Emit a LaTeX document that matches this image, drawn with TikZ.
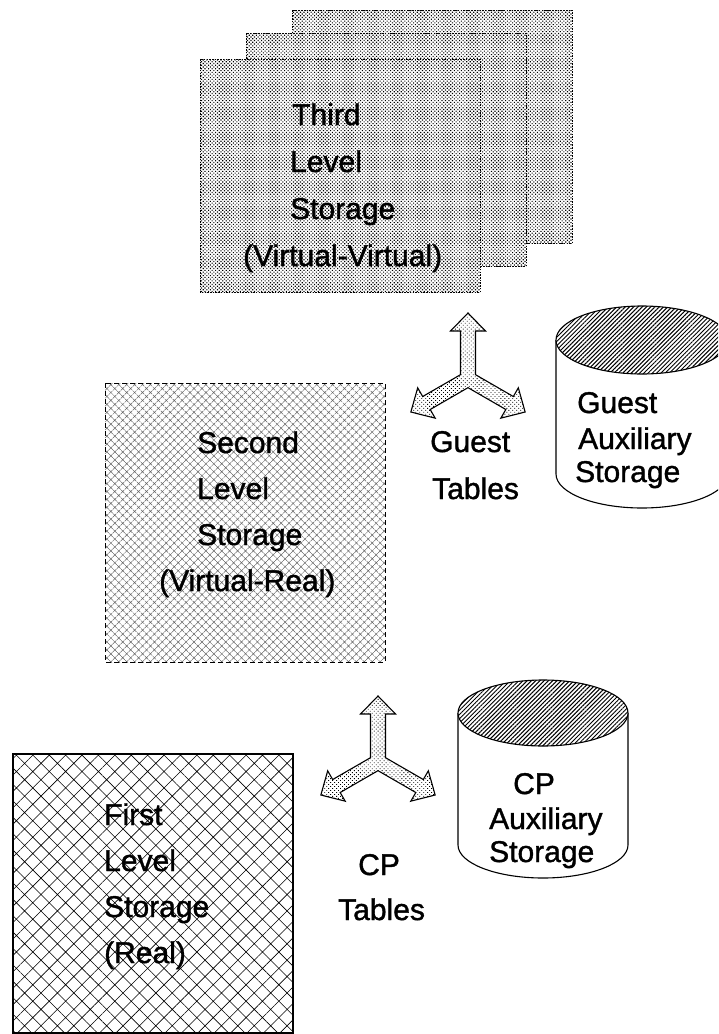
\documentclass[tikz,border=0pt]{standalone}
\usepackage{fontspec}
\setmainfont{Liberation Sans}
\newfontfamily\lblfont{Liberation Sans}[BoldFont={Liberation Sans}, BoldFeatures={FakeBold=1.2}]
\usetikzlibrary{patterns.meta}

\begin{document}
\begin{tikzpicture}[x=1pt,y=-1pt,
  lbl/.style={anchor=base west, inner sep=0pt, font=\lblfont\bfseries\fontsize{30}{36}\selectfont},
  vvbox/.style={preaction={fill=white},
    pattern={Dots[distance=2.5pt,radius=0.8pt,angle=45]}, pattern color=black,
    draw, line width=0.7pt, dash pattern=on 1.5pt off 1.2pt},
  vrbox/.style={preaction={fill=white},
    pattern={Hatch[angle=45,distance=5.6pt,line width=0.5pt]}, pattern color=black!60,
    draw, line width=1pt, dash pattern=on 5pt off 3pt},
  realbox/.style={preaction={fill=white},
    pattern={Hatch[angle=45,distance=11.6pt,line width=0.6pt]}, pattern color=black,
    draw, line width=1.1pt},
  yarrow/.style={preaction={fill=white},
    pattern={Dots[distance=2.8pt,radius=0.6pt,angle=45]}, pattern color=black,
    draw, line width=1.1pt, line join=miter},
  disk/.style={draw, line width=1.1pt, fill=white},
  disktop/.style={preaction={fill=white},
    pattern={Lines[angle=45,distance=3pt,line width=1pt]}, pattern color=black,
    draw, line width=1.1pt}
]
\useasboundingbox (0,0) rectangle (718,1034);
\clip (0,0) rectangle (718,1034);

% three-armed table arrow, centred at the current origin
\newcommand\tablearrow{%
  \draw[yarrow] (-7.5,-48) -- (-17.5,-48) -- (0,-66) -- (17.5,-48) -- (7.5,-48)
    -- (7.5,-4.33)
    -- (45.32,17.505) -- (50.32,8.845) -- (57.16,33) -- (32.82,39.155) -- (37.82,30.495)
    -- (0,8.66)
    -- (-37.82,30.495) -- (-32.82,39.155) -- (-57.16,33) -- (-50.32,8.845) -- (-45.32,17.505)
    -- (-7.5,-4.33) -- cycle;}

% ---- third level storage: a stack of pages
\path[vvbox] (292,10) rectangle (572,243);
\path[vvbox] (246,33) rectangle (526,266);
\path[vvbox] (200,59) rectangle (480,292);
\node[lbl] (t3a) at (292,125) {Third};
\node[lbl] (t3b) at (290,172) {Level};
\node[lbl] (t3c) at (290,219) {Storage};
\node[lbl] (t3d) at (243,266) {(Virtual-Virtual)};

% ---- second level storage
\path[vrbox] (105,383) rectangle (385,662);
\node[lbl] (t2a) at (197,453) {Second};
\node[lbl] (t2b) at (197,499) {Level};
\node[lbl] (t2c) at (197,545) {Storage};
\node[lbl] (t2d) at (159,591) {(Virtual-Real)};

% ---- first level storage
\path[realbox] (13,754) rectangle (293,1033);
\node[lbl] (t1a) at (104,825) {First};
\node[lbl] (t1b) at (104,871) {Level};
\node[lbl] (t1c) at (104,917) {Storage};
\node[lbl] (t1d) at (104,963) {(Real)};

% ---- guest tables
\begin{scope}[shift={(468,379)}]\tablearrow\end{scope}
\node[lbl] (gta) at (430,452) {Guest};
\node[lbl] (gtb) at (432,499) {Tables};

% ---- CP tables
\begin{scope}[shift={(378,762)}]\tablearrow\end{scope}
\node[lbl] (cpa) at (358,875) {CP};
\node[lbl] (cpb) at (338,920) {Tables};

% ---- guest auxiliary storage
\path[disk] (556,340) -- (556,474)
  arc[start angle=180, end angle=0, x radius=86, y radius=34] -- (728,340);
\path[disktop] (642,340) ellipse [x radius=86, y radius=34];
\node[lbl] (gda) at (577,413) {Guest};
\node[lbl] (gdb) at (578,449) {Auxiliary};
\node[lbl] (gdc) at (575,482) {Storage};

% ---- CP auxiliary storage
\path[disk] (458,713) -- (458,845)
  arc[start angle=180, end angle=0, x radius=85, y radius=33] -- (628,713);
\path[disktop] (543,713) ellipse [x radius=85, y radius=33];
\node[lbl] (cda) at (513,794) {CP};
\node[lbl] (cdb) at (489,829) {Auxiliary};
\node[lbl] (cdc) at (489,862) {Storage};
\end{tikzpicture}
\end{document}
